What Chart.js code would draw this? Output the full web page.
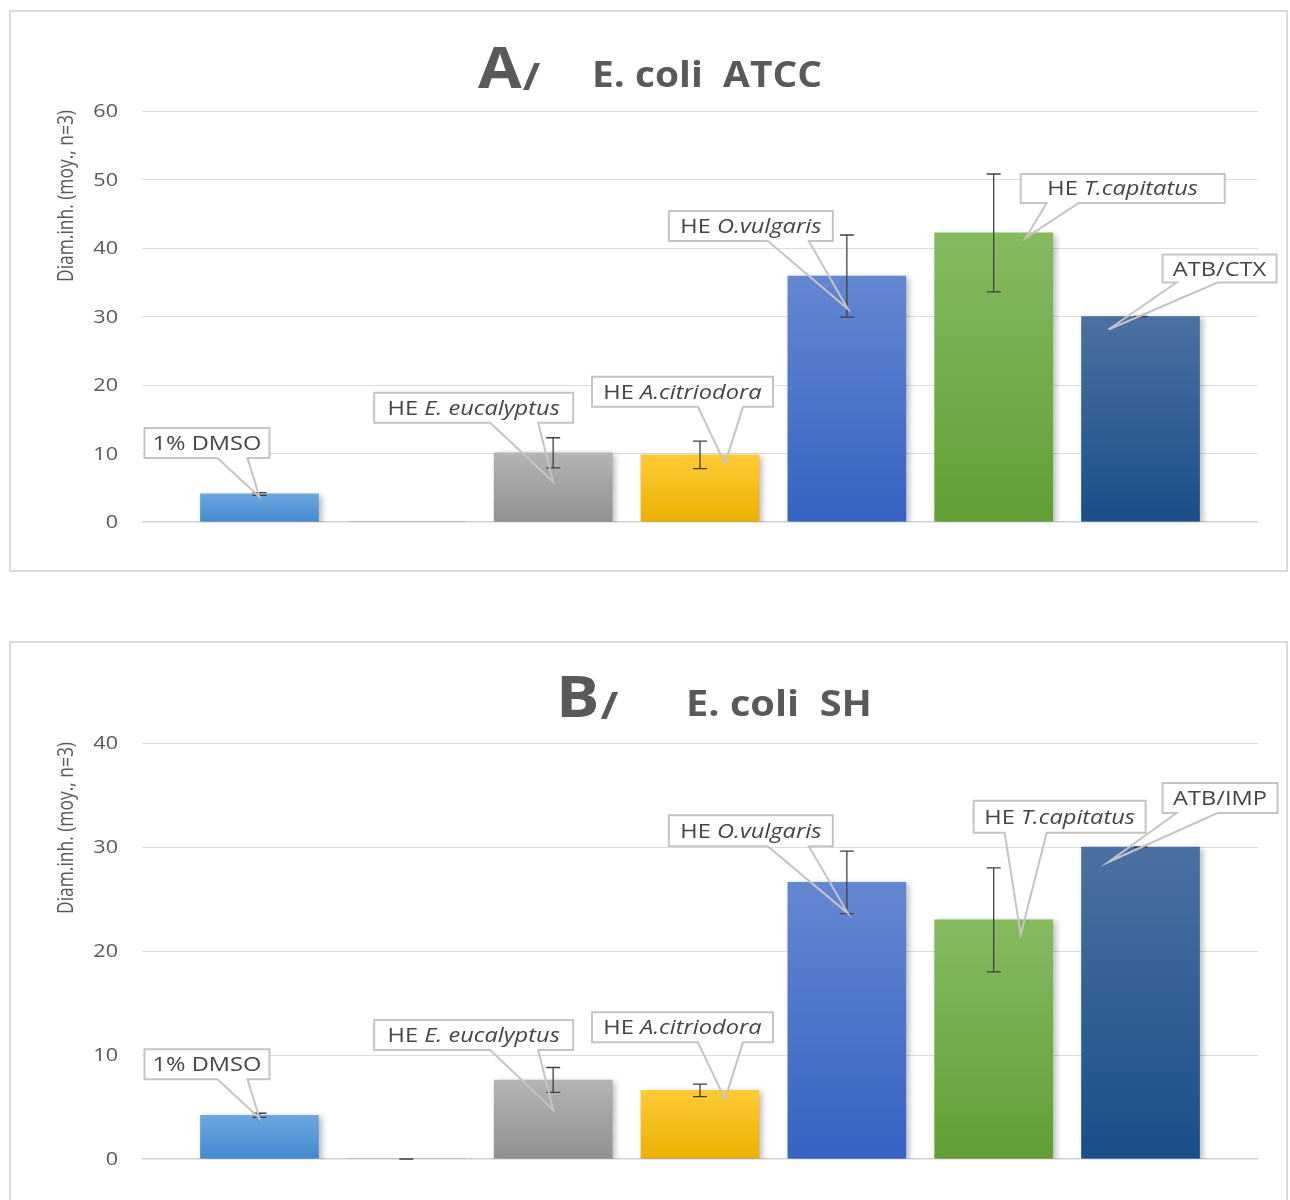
<!DOCTYPE html>
<html>
<head>
<meta charset="utf-8">
<script src="https://cdn.jsdelivr.net/npm/chart.js@4"></script>
<style>
  html, body { margin: 0; padding: 0; background: #fff; }
  body { width: 1290px; height: 1200px; overflow: hidden; position: relative; }
  .frame { position: absolute; left: 9px; width: 1279px; box-sizing: border-box;
           border: 2px solid #d9d9d9; background: #fff; }
  #frameA { top: 10px; height: 562px; }
  #frameB { top: 641px; height: 600px; }
  canvas { position: absolute; left: 0; }
  #chartA { top: 0; }
  #chartB { top: 620px; }
</style>
</head>
<body>
<div class="frame" id="frameA"></div>
<div class="frame" id="frameB"></div>
<canvas id="chartA" width="1290" height="600"></canvas>
<canvas id="chartB" width="1290" height="580"></canvas>
<script>
// ---- data: mean inhibition diameter (mm) and standard deviation, n = 3 ----
const labelsA = ['1% DMSO', '', 'HE E. eucalyptus', 'HE A.citriodora', 'HE O.vulgaris', 'HE T.capitatus', 'ATB/CTX'];
const meansA  = [4.1, 0, 10.1, 9.8, 35.9, 42.2, 30.0];
const errorsA = [0.2, null, 2.2, 2.0, 6.0, 8.6, 0];

const labelsB = ['1% DMSO', '', 'HE E. eucalyptus', 'HE A.citriodora', 'HE O.vulgaris', 'HE T.capitatus', 'ATB/IMP'];
const meansB  = [4.2, 0, 7.6, 6.6, 26.6, 23.0, 30.0];
const errorsB = [0.2, 0, 1.2, 0.6, 3.0, 5.0, 0];

const ticksA = [0, 10, 20, 30, 40, 50, 60];
const ticksB = [0, 10, 20, 30, 40];

const yTitle = 'Diam.inh. (moy., n=3)';

// ---- styles ----
const palette = [
  ['#6ba7e0', '#438ad0'],
  ['#a5a5a5', '#8c8c8c'],
  ['#b4b4b4', '#909090'],
  ['#ffcb35', '#ebb000'],
  ['#6487d1', '#3563c3'],
  ['#85bb5f', '#5f9f34'],
  ['#4b71a2', '#1a4e89']
];
const TEXT = '#595959';
const LABEL_TEXT = '#454545';
const FONT = '"Open Sans", "DejaVu Sans", sans-serif';
const SX = 1.2;        // horizontal stretch for tick labels
const LABEL_SX = 1.18; // horizontal stretch for callout text

// callout placement, relative to the bar's top-centre (px)
const calloutsA = [
  { i: 0, box: [-115, -66, 125, 30], tip: [0, 3],   base: [73, 103] },
  { i: 2, box: [-179, -60, 199, 30], tip: [0, 29],  base: [116, 164] },
  { i: 3, box: [-108, -78, 181, 30], tip: [25, 9],  base: [106, 151] },
  { i: 4, box: [-178, -65, 164, 30], tip: [1, 33],  base: [99, 140] },
  { i: 5, box: [27, -59, 204, 29],   tip: [32, 5],  base: [26, 58] },
  { i: 6, box: [22, -62, 114, 28],   tip: [-32, 13], base: [14, 55] }
];
const calloutsB = [
  { i: 0, box: [-115, -66, 125, 30], tip: [0, 3],   base: [73, 103] },
  { i: 2, box: [-179, -60, 199, 30], tip: [0, 30],  base: [116, 164] },
  { i: 3, box: [-108, -78, 181, 30], tip: [25, 9],  base: [106, 151] },
  { i: 4, box: [-178, -67, 164, 31], tip: [1, 31],  base: [99, 140] },
  { i: 5, box: [-20, -119, 172, 32], tip: [27, 15], base: [31, 73] },
  { i: 6, box: [22, -64, 115, 30],   tip: [-32, 15], base: [14, 55] }
];

// ---- text helpers ----
function stretchedText(ctx, text, x, y, font, color, sx, align) {
  ctx.save();
  ctx.font = font;
  ctx.fillStyle = color;
  ctx.textBaseline = 'alphabetic';
  ctx.textAlign = 'left';
  const w = ctx.measureText(text).width * sx;
  const left = align === 'right' ? x - w : align === 'center' ? x - w / 2 : x;
  ctx.translate(left, y);
  ctx.scale(sx, 1);
  ctx.fillText(text, 0, 0);
  ctx.restore();
  return w;
}

// "HE Genus.species": prefix upright, species name in italics
function labelParts(label) {
  if (label.startsWith('HE ')) return [{ t: 'HE ', it: false }, { t: label.slice(3), it: true }];
  return [{ t: label, it: false }];
}

const drawing = {
  id: 'drawing',
  beforeDatasetsDraw(chart) {
    const ctx = chart.ctx;
    ctx.save();
    ctx.shadowColor = 'rgba(0,0,0,0.28)';
    ctx.shadowBlur = 6;
    ctx.shadowOffsetX = 3;
    ctx.shadowOffsetY = 2;
  },
  afterDatasetsDraw(chart, args, opts) {
    const ctx = chart.ctx;
    ctx.restore();
    const y = chart.scales.y;
    const area = chart.chartArea;
    const meta = chart.getDatasetMeta(0);
    const means = chart.data.datasets[0].data.map(d => d.y);

    // y tick labels
    y.ticks.forEach(t => {
      stretchedText(ctx, String(t.value), area.left - 24, y.getPixelForValue(t.value) + 6,
        '18px ' + FONT, TEXT, SX, 'right');
    });

    // y axis title, rotated, aligned to the top of the plot
    ctx.save();
    ctx.font = '21px ' + FONT;
    const natural = ctx.measureText(yTitle).width;
    const len = 172;
    ctx.translate(73, area.top - 1 + len);
    ctx.rotate(-Math.PI / 2);
    ctx.scale(len / natural, 1);
    ctx.fillStyle = TEXT;
    ctx.textBaseline = 'alphabetic';
    ctx.fillText(yTitle, 0, 0);
    ctx.restore();

    // error bars
    ctx.save();
    ctx.strokeStyle = '#404040';
    ctx.lineWidth = 1.3;
    opts.errors.forEach((e, i) => {
      if (e === null || e === undefined) return;
      const x = meta.data[i].x;
      const yt = y.getPixelForValue(means[i] + e);
      const yb = y.getPixelForValue(Math.max(0, means[i] - e));
      ctx.beginPath();
      ctx.moveTo(x, yt); ctx.lineTo(x, yb);
      ctx.moveTo(x - 7, yt); ctx.lineTo(x + 7, yt);
      ctx.moveTo(x - 7, yb); ctx.lineTo(x + 7, yb);
      ctx.stroke();
    });
    ctx.restore();

    // callouts
    opts.callouts.forEach(c => {
      const bar = meta.data[c.i];
      const L = bar.x + c.box[0], T = bar.y + c.box[1], W = c.box[2], H = c.box[3];
      const R = L + W, B = T + H;
      const tx = bar.x + c.tip[0], ty = bar.y + c.tip[1];
      ctx.save();
      ctx.fillStyle = '#ffffff';
      ctx.fillRect(L, T, W, H);
      ctx.beginPath();
      ctx.moveTo(L, T); ctx.lineTo(R, T); ctx.lineTo(R, B);
      ctx.lineTo(L + c.base[1], B); ctx.lineTo(tx, ty); ctx.lineTo(L + c.base[0], B);
      ctx.lineTo(L, B); ctx.closePath();
      ctx.strokeStyle = '#c4c4c4';
      ctx.lineWidth = 2;
      ctx.lineJoin = 'miter';
      ctx.stroke();
      ctx.restore();

      const parts = labelParts(chart.data.labels[c.i]);
      ctx.save();
      let total = 0;
      parts.forEach(p => {
        ctx.font = (p.it ? 'italic ' : '') + '20px ' + FONT;
        p.w = ctx.measureText(p.t).width * LABEL_SX;
        total += p.w;
      });
      ctx.restore();
      let x = L + (W - total) / 2;
      const base = T + H / 2 + 7;
      parts.forEach(p => {
        stretchedText(ctx, p.t, x, base, (p.it ? 'italic ' : '') + '20px ' + FONT, LABEL_TEXT, LABEL_SX, 'left');
        x += p.w;
      });
    });

    // heading
    const h = opts.heading;
    ctx.save();
    ctx.font = 'bold 35px ' + FONT;
    const hs = h.restW / ctx.measureText(h.rest).width;
    ctx.restore();
    const bw = stretchedText(ctx, h.big, h.bigX, h.baseline, 'bold 57px ' + FONT, TEXT, hs, 'left');
    stretchedText(ctx, '/', h.bigX + bw + 1, h.baseline + 2, 'bold 38px ' + FONT, TEXT, hs, 'left');
    stretchedText(ctx, h.rest, h.restX, h.baseline - 1, 'bold 35px ' + FONT, TEXT, hs, 'left');
  }
};

function makeChart(id, labels, means, errors, ticks, callouts, heading, padding) {
  const points = means.map((v, i) => ({ x: i, y: v }));
  return new Chart(document.getElementById(id), {
    type: 'bar',
    data: {
      labels: labels,
      datasets: [{
        data: points,
        barThickness: 118,
        borderWidth: 0,
        backgroundColor: (c) => {
          const pair = palette[c.dataIndex % palette.length];
          const chart = c.chart;
          if (!chart.chartArea || c.type !== 'data' || !c.parsed) return pair[0];
          const ys = chart.scales.y;
          const top = ys.getPixelForValue(c.parsed.y);
          const bottom = ys.getPixelForValue(0);
          if (bottom - top < 1) return pair[1];
          const g = chart.ctx.createLinearGradient(0, top, 0, bottom);
          g.addColorStop(0, pair[0]);
          g.addColorStop(1, pair[1]);
          return g;
        }
      }]
    },
    options: {
      responsive: false,
      animation: false,
      events: [],
      layout: { padding: padding },
      scales: {
        x: {
          type: 'linear',
          display: false,
          offset: false,
          min: -0.8,
          max: 6.8
        },
        y: {
          min: ticks[0],
          max: ticks[ticks.length - 1],
          afterBuildTicks: (s) => { s.ticks = ticks.map(v => ({ value: v })); },
          afterFit: (s) => { s.width = 142; },
          border: { display: false },
          grid: {
            color: (c) => c.tick && c.tick.value === 0 ? '#cfcfcf' : '#dcdcdc',
            lineWidth: (c) => c.tick && c.tick.value === 0 ? 1.6 : 1,
            drawTicks: false
          },
          ticks: { display: false }
        }
      },
      plugins: {
        legend: { display: false },
        tooltip: { enabled: false },
        drawing: { errors: errors, callouts: callouts, heading: heading }
      }
    },
    plugins: [drawing]
  });
}

makeChart('chartA', labelsA, meansA, errorsA, ticksA, calloutsA,
  { big: 'A', rest: 'E. coli  ATCC', bigX: 478, restX: 592, restW: 230, baseline: 88 },
  { left: 0, right: 32, top: 111, bottom: 78 });

makeChart('chartB', labelsB, meansB, errorsB, ticksB, calloutsB,
  { big: 'B', rest: 'E. coli  SH', bigX: 556, restX: 686, restW: 186, baseline: 97 },
  { left: 0, right: 32, top: 123, bottom: 41 });
</script>
</body>
</html>
